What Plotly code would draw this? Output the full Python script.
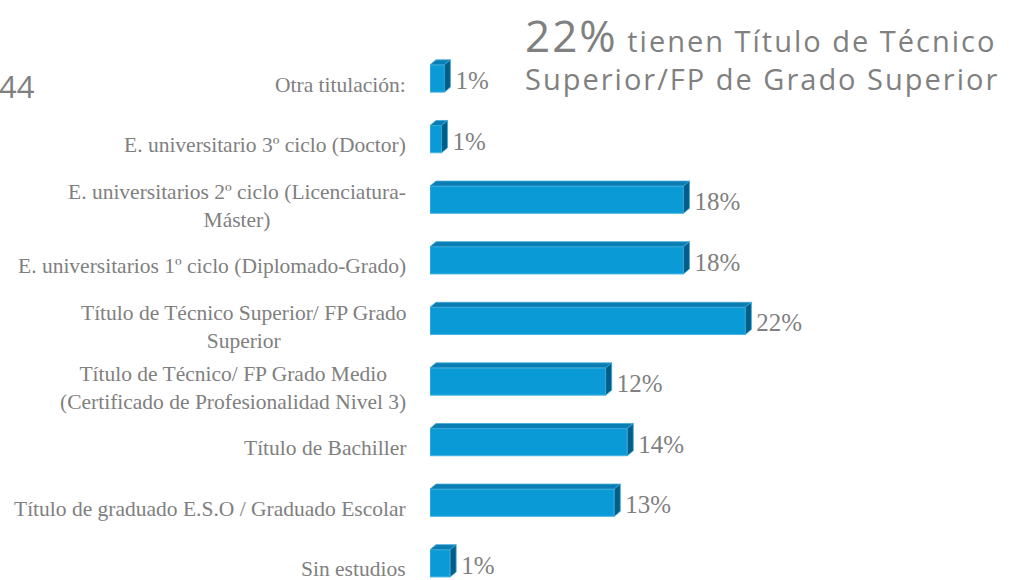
import plotly.graph_objects as go

# Data (bottom to top)
categories = [
    "Sin estudios",
    "Título de graduado E.S.O / Graduado Escolar",
    "Título de Bachiller",
    "Título de Técnico/ FP Grado Medio<br>(Certificado de Profesionalidad Nivel 3)",
    "Título de Técnico Superior/ FP Grado<br>Superior",
    "E. universitarios 1º ciclo (Diplomado-Grado)",
    "E. universitarios 2º ciclo (Licenciatura-<br>Máster)",
    "E. universitario 3º ciclo (Doctor)",
    "Otra titulación:",
]
values = [1.4, 12.8, 13.7, 12.2, 21.9, 17.6, 17.6, 0.8, 1.0]
value_labels = ["1%", "13%", "14%", "12%", "22%", "18%", "18%", "1%", "1%"]

title_big = "22%"
title_line1 = " tienen Título de Técnico"
title_line2 = "Superior/FP de Grado Superior"
corner_text = "44"

W, H = 1009, 580
x_left_px = 430
px_per_unit_x = 14.4
px_per_unit_y = 60.6
x_max = (W - x_left_px) / px_per_unit_x
y_top = 8 + 78.5 / px_per_unit_y
y_bottom = y_top - H / px_per_unit_y

bar_w = 0.45
dx = 6 / px_per_unit_x
dy = 5 / px_per_unit_y
label_pad = 5 / px_per_unit_x

FRONT = "#0A9AD6"
TOP = "#0A7DB2"
SIDE = "#005E88"
GRAY = "#808080"

ys = list(range(len(categories)))

fig = go.Figure()
fig.add_trace(go.Bar(
    x=values, y=ys, orientation="h", width=bar_w,
    marker=dict(color=FRONT, line=dict(color="#46B4E4", width=1)),
    hoverinfo="skip", showlegend=False,
))

# 3D top and side faces derived from the values
top_x, top_y, side_x, side_y = [], [], [], []
for v, y in zip(values, ys):
    t = y + bar_w / 2
    b = y - bar_w / 2
    top_x += [0, v, v + dx, dx, 0, None]
    top_y += [t, t, t + dy, t + dy, t, None]
    side_x += [v, v, v + dx, v + dx, v, None]
    side_y += [b, t, t + dy, b + dy, b, None]

fig.add_trace(go.Scatter(x=top_x, y=top_y, fill="toself", fillcolor=TOP,
                         mode="lines", line=dict(color="#3FA9D9", width=0.8),
                         hoverinfo="skip", showlegend=False))
fig.add_trace(go.Scatter(x=side_x, y=side_y, fill="toself", fillcolor=SIDE,
                         mode="lines", line=dict(color="#3FA9D9", width=0.8),
                         hoverinfo="skip", showlegend=False))

# value labels
fig.add_trace(go.Scatter(
    x=[v + dx + label_pad for v in values], y=[y - 0.07 for y in ys],
    mode="text", text=value_labels, textposition="middle right",
    textfont=dict(family="Liberation Serif", size=25, color=GRAY),
    hoverinfo="skip", showlegend=False, cliponaxis=False,
))

annotations = []
for cat, y in zip(categories, ys):
    annotations.append(dict(
        x=0, y=y, xref="x", yref="y", text=cat, showarrow=False,
        xanchor="right", yanchor="middle", align="center", xshift=-22, yshift=-6,
        font=dict(family="Liberation Serif", size=21.5, color=GRAY),
    ))

annotations.append(dict(
    x=523 / W, y=1 - 3 / H, xref="paper", yref="paper",
    xanchor="left", yanchor="top", align="left", showarrow=False,
    text=(f"<span style='font-size:44px;letter-spacing:2px'>{title_big}</span>"
          f"<span style='letter-spacing:2px'>{title_line1}</span><br>"
          f"<span style='letter-spacing:2px'>{title_line2}</span>"),
    font=dict(family="Open Sans", size=29, color=GRAY),
))
annotations.append(dict(
    x=0, y=1 - 86 / H, xref="paper", yref="paper",
    xanchor="left", yanchor="middle", xshift=-3, showarrow=False,
    text=corner_text, font=dict(family="Open Sans", size=31, color=GRAY),
))

fig.update_layout(
    width=W, height=H,
    margin=dict(l=0, r=0, t=0, b=0),
    paper_bgcolor="white", plot_bgcolor="white",
    xaxis=dict(domain=[x_left_px / W, 1], range=[0, x_max], visible=False),
    yaxis=dict(range=[y_bottom, y_top], visible=False),
    annotations=annotations,
    showlegend=False,
)

fig.write_html("out.html", config={"displayModeBar": False},
               post_script="document.body.style.margin='0px';")
